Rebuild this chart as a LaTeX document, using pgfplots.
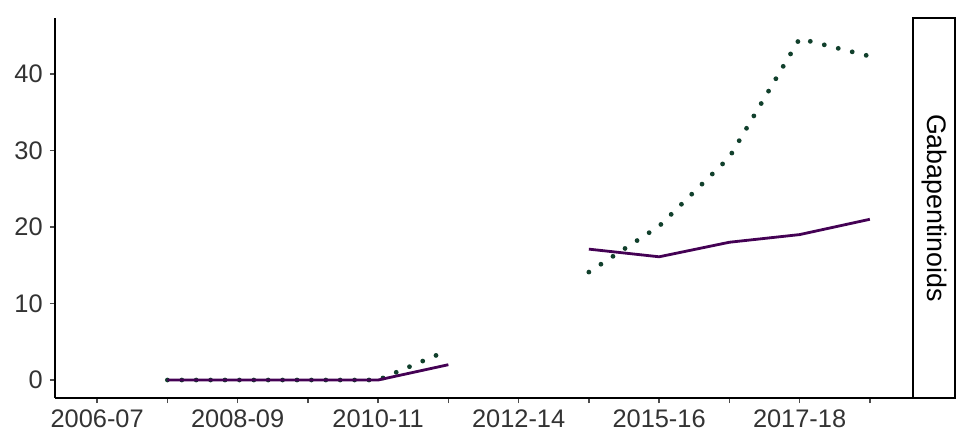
\documentclass[border=0pt]{standalone}
\usepackage{fontspec}
\setmainfont{Liberation Sans}
\usepackage{pgfplots}
\pgfplotsset{compat=1.18}
\definecolor{lnpurple}{HTML}{440154}
\definecolor{lngreen}{HTML}{11402C}
\definecolor{ticktext}{HTML}{333333}

\begin{document}
\begin{tikzpicture}
\begin{axis}[
  name=main,
  scale only axis,
  width=428.5pt, height=190pt,
  xmin=-0.6, xmax=11.6,
  ymin=-2.35, ymax=47.3,
  axis x line*=bottom, axis y line*=left,
  axis line style={line width=1pt, black},
  tick align=outside,
  major tick length=2.6pt,
  tick style={line width=0.8pt, black!70},
  xtick={0,...,11},
  xticklabels={2006-07,,2008-09,,2010-11,,2012-14,,2015-16,,2017-18,},
  ytick={0,10,20,30,40},
  /pgf/number format/assume math mode=true,
  tick label style={font=\fontsize{12.7}{14}\selectfont, text=ticktext},
  clip=false,
]
% new users, dotted
\addplot[lngreen, line width=2.4pt, line cap=round, dash pattern=on 0pt off 7.2pt] coordinates {
  (1,0) (2,0) (3,0) (4,0) (5,3.9)
};
\addplot[lngreen, line width=2.4pt, line cap=round, dash pattern=on 0pt off 7.2pt] coordinates {
  (7,14.1) (8,20.1) (9,29.1) (10,44.6) (11,42.3)
};
% current users, solid
\addplot[lnpurple, line width=1.4pt, line join=round] coordinates {
  (1,0) (2,0) (3,0) (4,0) (5,2.0)
};
\addplot[lnpurple, line width=1.4pt, line join=round] coordinates {
  (7,17.1) (8,16.1) (9,18.0) (10,19.0) (11,21.0)
};
% facet strip
\draw[line width=0.6pt, black, fill=white]
  ([xshift=0.5pt]rel axis cs:1,0) rectangle ([xshift=21.5pt]rel axis cs:1,1);
\node[rotate=-90, font=\fontsize{13.4}{15}\selectfont, text=black]
  at ([xshift=11pt]rel axis cs:1,0.5) {Gabapentinoids};
\end{axis}
\pgfresetboundingbox
\path[use as bounding box]
  ([xshift=-27.5pt, yshift=-17.5pt]main.south west)
  rectangle ([xshift=23.5pt, yshift=9pt]main.north east);
\end{tikzpicture}
\end{document}
